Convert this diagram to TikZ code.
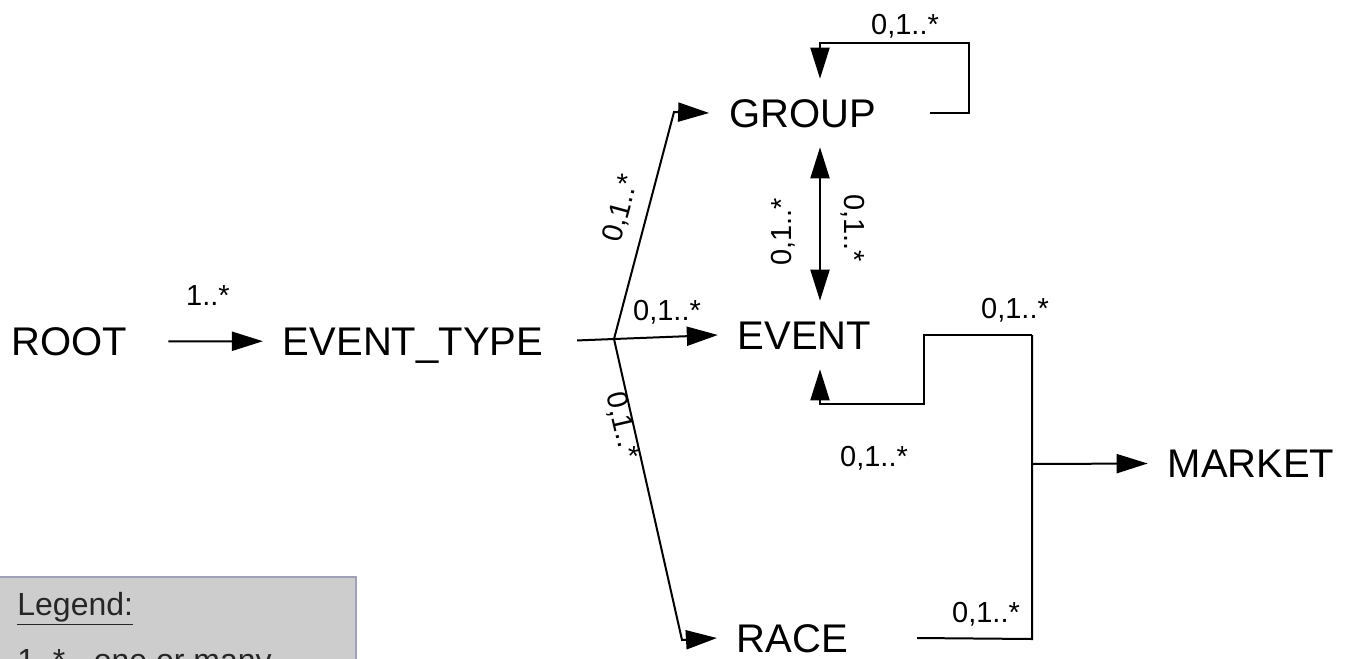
\documentclass[tikz,border=0pt]{standalone}
\usepackage{fontspec}
\setmainfont{Liberation Sans}
\usetikzlibrary{arrows.meta}
\definecolor{legendgray}{RGB}{205,205,205}
\definecolor{legendedge}{RGB}{160,160,182}
\begin{document}
\begin{tikzpicture}[x=0.5pt,y=-0.5pt,
        entity/.style={font=\fontsize{20}{24}\selectfont, inner sep=0pt, outer sep=10pt, text height=14.3pt, text depth=0pt},
        mult/.style={font=\fontsize{14.5}{17}\selectfont, inner sep=0pt, text height=10.4pt, text depth=0pt},
        link/.style={line width=1pt},
        >={Triangle[length=15.5pt,width=9.5pt]}]
        \clip (0,0) rectangle (1352,658);
        % entities
        \node[entity] (root) at (69.5,341.5) {ROOT};
        \node[entity] (etype) at (413,341) {EVENT\_TYPE};
        \node[entity] (group) at (802.5,113) {GROUP};
        \node[entity] (event) at (804.5,335) {EVENT};
        \node[entity] (race) at (792.5,638) {RACE};
        \node[entity] (market) at (1251,463.5) {MARKET};
        % bends
        \coordinate (fork) at (614,339);
        \coordinate (gbend) at (674,112);
        \coordinate (rbend) at (682,640);
        \coordinate (loopNE) at (969,43);
        \coordinate (loopNW) at (820,43);
        \coordinate (dbl) at (820,224);
        \coordinate (busTop) at (1032,335);
        \coordinate (busMid) at (1032,464);
        \coordinate (busBot) at (1032,639);
        \coordinate (stepR) at (924,335);
        \coordinate (stepL) at (924,404);
        \coordinate (evx) at (820,404);
        % connectors
        \draw[link,->,shorten <=10.5pt] (root) -- (etype);
        \draw[link,shorten <=7pt] (etype.east) -- (fork);
        \draw[link,->] (fork) -- (gbend) -- (group.west);
        \draw[link,->] (fork) -- (event.west);
        \draw[link,->] (fork) -- (rbend) -- (race.west);
        \draw[link,->] ([xshift=17pt]group.east) -| (loopNE) -- (loopNW) -- (loopNW |- group.north);
        \draw[link,<->] (dbl |- group.south) -- (dbl |- event.north);
        \draw[link,->] (busTop) -- (stepR) -- (stepL) -- (evx) -- (evx |- event.south);
        \draw[link] ([xshift=24.5pt]race.east) -- (busBot) -- (busTop);
        \draw[link,->] (busMid) -- (market.west);
        % multiplicities
        \node[mult] (m1) at (208,295) {1..*};
        \node[mult, rotate=75] (m2) at (619.5,208) {0,1..*};
        \node[mult] (m3) at (667,310) {0,1..*};
        \node[mult, rotate=-77] (m4) at (624,425) {0,1..*};
        \node[mult] (m5) at (905,24) {0,1..*};
        \node[mult, rotate=90] (m6) at (781,232) {0,1..*};
        \node[mult, rotate=-90] (m7) at (855,228) {0,1..*};
        \node[mult] (m8) at (1015,308) {0,1..*};
        \node[mult] (m9) at (874,456) {0,1..*};
        \node[mult] (m10) at (986,612) {0,1..*};
        % legend
        \filldraw[fill=legendgray, draw=legendedge, line width=1pt] (-2,577) rectangle (356,700);
        \node[anchor=base west, inner sep=0pt, font=\fontsize{16}{19}\selectfont, text=black!85] (legtitle) at (17,615) {\underline{Legend:}};
        \node[anchor=base west, inner sep=0pt, font=\fontsize{16}{19}\selectfont, text=black!85] (legline) at (17,671) {1..* - one or many};
\end{tikzpicture}
\end{document}
